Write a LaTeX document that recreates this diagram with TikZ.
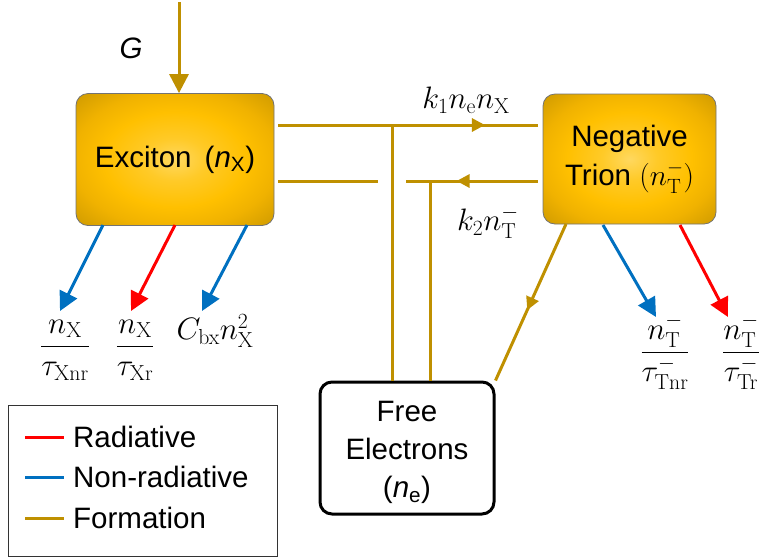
\RequirePackage{fix-cm}
\documentclass[tikz,border=0pt]{standalone}
\usepackage{amsmath}
\usepackage[no-math]{fontspec}
\setmainfont{Liberation Sans}
\usetikzlibrary{arrows.meta,decorations.markings}
\definecolor{gold}{RGB}{191,144,0}
\definecolor{nrblue}{RGB}{0,112,192}
\definecolor{rred}{RGB}{255,0,0}
\pgfdeclareradialshading{goldglow}{\pgfpoint{0bp}{0bp}}{%
  color(0bp)=(rgb,255:red,255;green,216;blue,95);
  color(8bp)=(rgb,255:red,255;green,202;blue,40);
  color(18bp)=(rgb,255:red,255;green,192;blue,0);
  color(26bp)=(rgb,255:red,240;green,178;blue,0);
  color(34bp)=(rgb,255:red,212;green,158;blue,0);
  color(50bp)=(rgb,255:red,180;green,134;blue,0)}
\newcommand{\bigtxt}{\fontsize{29.5}{39}\selectfont}
\newcommand{\mathtxt}{\fontsize{31}{38}\selectfont}
\tikzset{
  form/.style={draw=gold, line width=3pt},
  nonrad/.style={draw=nrblue, line width=3pt},
  rad/.style={draw=rred, line width=3pt},
  bigtip/.style={-{Triangle[length=19pt,width=19pt]}},
  midtip/.style={postaction={decorate, decoration={markings,
      mark=at position #1 with {\arrow{Triangle[length=13pt,width=13pt]}}}}},
  statebox/.style={draw=black!55, line width=0.8pt, rounded corners=12pt,
      shading=goldglow, align=center, font=\bigtxt, inner sep=0pt},
  febox/.style={draw=black, line width=3pt, rounded corners=12pt, fill=white,
      align=center, font=\fontsize{29.5}{38}\selectfont, inner sep=0pt,
      minimum width=174pt, minimum height=132pt},
  lbl/.style={font=\bigtxt, inner sep=0pt},
  mlbl/.style={font=\mathtxt, inner sep=0pt},
}
\begin{document}
\begin{tikzpicture}[x=1pt,y=-1pt]
\useasboundingbox (0,0) rectangle (762,558);
% state boxes
\node[statebox, minimum width=198pt, minimum height=132pt] (ex) at (175,159.5)
  {Exciton \,(\textit{n}\textsubscript{X})};
\node[statebox, minimum width=173pt, minimum height=130pt] (tr) at (629.5,159)
  {Negative\\Trion $(n_\mathrm{T}^-)$};
\node[febox] (fe) at (407,448) {\rule{0pt}{30pt}Free\\Electrons\\(\textit{n}\textsubscript{e})};
% generation
\coordinate (gtop) at (179,2);
\draw[form,bigtip] (gtop) -- (gtop |- ex.north);
\node[lbl] (G) at (131,48) {\textit{G}};
% formation lines
\coordinate (j1) at (392,125);
\coordinate (j2) at (430,181);
\coordinate (gapL) at (378,181);
\coordinate (gapR) at (406,181);
\draw[form,midtip=0.785,shorten <=4pt,shorten >=5pt] (ex.east |- j1) -- (tr.west |- j1);
\draw[form] (j1) -- (j1 |- fe.north);
\draw[form,midtip=0.63,shorten <=5pt] (tr.west |- j2) -- (gapR);
\draw[form,shorten <=4pt] (ex.east |- gapL) -- (gapL);
\draw[form] (j2) -- (j2 |- fe.north);
\coordinate (trb) at (566,224);
\draw[form,midtip=0.55] (trb) -- (fe.north east);
\node[mlbl] (k1) at (466,100) {$k_1n_\mathrm{e}n_\mathrm{X}$};
\node[mlbl] (k2) at (488,222) {$k_2n_\mathrm{T}^-$};
% exciton decays
\coordinate (e1) at (103,225); \coordinate (e1t) at (60,311);
\coordinate (e2) at (175,225); \coordinate (e2t) at (131,311);
\coordinate (e3) at (247,225); \coordinate (e3t) at (202,311);
\draw[nonrad,bigtip] (e1) -- (e1t);
\draw[rad,bigtip] (e2) -- (e2t);
\draw[nonrad,bigtip] (e3) -- (e3t);
\node[mlbl] (fx1) at (65,350) {$\dfrac{n_\mathrm{X}}{\tau_\mathrm{Xnr}}$};
\node[mlbl] (fx2) at (135,350) {$\dfrac{n_\mathrm{X}}{\tau_\mathrm{Xr}}$};
\node[mlbl] (fx3) at (215,331) {$C_\mathrm{bx}n_\mathrm{X}^2$};
% trion decays
\coordinate (t1) at (603,225); \coordinate (t1t) at (656,317);
\coordinate (t2) at (680,225); \coordinate (t2t) at (728,317);
\draw[nonrad,bigtip] (t1) -- (t1t);
\draw[rad,bigtip] (t2) -- (t2t);
\node[mlbl] (ft1) at (665,352) {$\dfrac{n_\mathrm{T}^-}{\tau_\mathrm{Tnr}^-}$};
\node[mlbl] (ft2) at (741,352) {$\dfrac{n_\mathrm{T}^-}{\tau_\mathrm{Tr}^-}$};
% legend
\node[draw=black!80, line width=0.8pt, minimum width=269pt, minimum height=151pt, inner sep=0pt] (leg) at (142.5,480.5) {};
\coordinate (l1a) at (25,437); \coordinate (l1b) at (64,437);
\coordinate (l2a) at (25,477); \coordinate (l2b) at (64,477);
\coordinate (l3a) at (25,518); \coordinate (l3b) at (64,518);
\draw[rad] (l1a) -- (l1b);
\draw[nonrad] (l2a) -- (l2b);
\draw[form] (l3a) -- (l3b);
\node[lbl, anchor=west] (lt1) at (73,437) {Radiative};
\node[lbl, anchor=west] (lt2) at (73,477) {Non-radiative};
\node[lbl, anchor=west] (lt3) at (73,518) {Formation};
\end{tikzpicture}
\end{document}
